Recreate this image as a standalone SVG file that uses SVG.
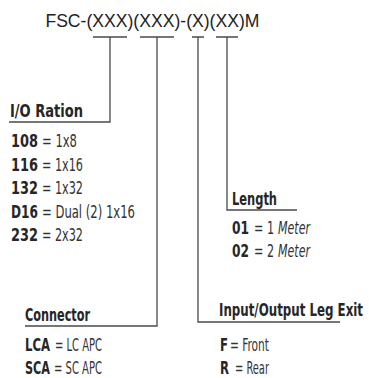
<svg xmlns="http://www.w3.org/2000/svg" width="369" height="378" viewBox="0 0 369 378">
<style>
.ln{fill:none;stroke:#4a4a4a;stroke-width:1.3}
.title{font-family:"Liberation Sans",Arial,sans-serif;font-size:17.6px;fill:#222}
.hd{font-family:"DejaVu Sans Condensed","DejaVu Sans","Liberation Sans",sans-serif;font-weight:bold;font-size:18px;fill:#262626}
.row{font-family:"DejaVu Sans Condensed","DejaVu Sans","Liberation Sans",sans-serif;font-size:18px;fill:#333}
.cd{font-weight:bold;fill:#262626}
.it{font-style:italic}
</style>
<rect width="369" height="378" fill="#fff"/>
<g id="title">
<text class="title" x="45.4" y="27">FSC-(XXX)(XXX)-(X)(XX)M</text>
</g>
<g id="connectors">
<path class="ln" d="M93,37H127M110,37V122H9"/>
<path class="ln" d="M140,37H174M157,37V326H25"/>
<path class="ln" d="M192,37H204M198,37V322H340"/>
<path class="ln" d="M216,37H238M227,37V210H297"/>
</g>
<g id="io-ration">
<text class="hd" transform="translate(10,117) scale(0.8,1)" textLength="91.25" lengthAdjust="spacingAndGlyphs">I/O Ration</text>
<text class="row" transform="translate(11,147) scale(0.8,1)"><tspan class="cd" x="0" textLength="33.75" lengthAdjust="spacingAndGlyphs">108</tspan><tspan x="38.75" textLength="43.75" lengthAdjust="spacingAndGlyphs">= 1x8</tspan></text>
<text class="row" transform="translate(11,170.5) scale(0.8,1)"><tspan class="cd" x="0" textLength="33.75" lengthAdjust="spacingAndGlyphs">116</tspan><tspan x="38.75" textLength="51.25" lengthAdjust="spacingAndGlyphs">= 1x16</tspan></text>
<text class="row" transform="translate(11,194) scale(0.8,1)"><tspan class="cd" x="0" textLength="33.75" lengthAdjust="spacingAndGlyphs">132</tspan><tspan x="38.75" textLength="51.25" lengthAdjust="spacingAndGlyphs">= 1x32</tspan></text>
<text class="row" transform="translate(11,217.5) scale(0.72,1)"><tspan class="cd" x="0" textLength="37.5" lengthAdjust="spacingAndGlyphs">D16</tspan><tspan x="43.06" textLength="129.17" lengthAdjust="spacingAndGlyphs">= Dual (2) 1x16</tspan></text>
<text class="row" transform="translate(11,241) scale(0.8,1)"><tspan class="cd" x="0" textLength="33.75" lengthAdjust="spacingAndGlyphs">232</tspan><tspan x="38.75" textLength="51.25" lengthAdjust="spacingAndGlyphs">= 2x32</tspan></text>
</g>
<g id="length">
<text class="hd" transform="translate(232,205) scale(0.71,1)" textLength="63.38" lengthAdjust="spacingAndGlyphs">Length</text>
<text class="row" transform="translate(232,234) scale(0.7,1)"><tspan class="cd" x="0" textLength="24.29" lengthAdjust="spacingAndGlyphs">01</tspan><tspan x="31.43" textLength="28.57" lengthAdjust="spacingAndGlyphs">= 1</tspan><tspan class="it" x="65.71" textLength="45.71" lengthAdjust="spacingAndGlyphs">Meter</tspan></text>
<text class="row" transform="translate(232,257) scale(0.7,1)"><tspan class="cd" x="0" textLength="24.29" lengthAdjust="spacingAndGlyphs">02</tspan><tspan x="31.43" textLength="28.57" lengthAdjust="spacingAndGlyphs">= 2</tspan><tspan class="it" x="65.71" textLength="45.71" lengthAdjust="spacingAndGlyphs">Meter</tspan></text>
</g>
<g id="connector">
<text class="hd" transform="translate(25,321) scale(0.7,1)" textLength="92.86" lengthAdjust="spacingAndGlyphs">Connector</text>
<text class="row" transform="translate(25,351) scale(0.7,1)"><tspan class="cd" x="0" textLength="35.71" lengthAdjust="spacingAndGlyphs">LCA</tspan><tspan x="42.86" textLength="67.14" lengthAdjust="spacingAndGlyphs">= LC APC</tspan></text>
<text class="row" transform="translate(25,374) scale(0.69,1)"><tspan class="cd" x="0" textLength="36.23" lengthAdjust="spacingAndGlyphs">SCA</tspan><tspan x="42.03" textLength="69.57" lengthAdjust="spacingAndGlyphs">= SC APC</tspan></text>
</g>
<g id="leg-exit">
<text class="hd" transform="translate(219,316) scale(0.73,1)" textLength="197.26" lengthAdjust="spacingAndGlyphs">Input/Output Leg Exit</text>
<text class="row" transform="translate(220,351) scale(0.7,1)"><tspan class="cd" x="0" textLength="11.43" lengthAdjust="spacingAndGlyphs">F</tspan><tspan x="14.29" textLength="55.71" lengthAdjust="spacingAndGlyphs">= Front</tspan></text>
<text class="row" transform="translate(220,374) scale(0.7,1)"><tspan class="cd" x="0" textLength="12.86" lengthAdjust="spacingAndGlyphs">R</tspan><tspan x="21.43" textLength="48.57" lengthAdjust="spacingAndGlyphs">= Rear</tspan></text>
</g>
</svg>
